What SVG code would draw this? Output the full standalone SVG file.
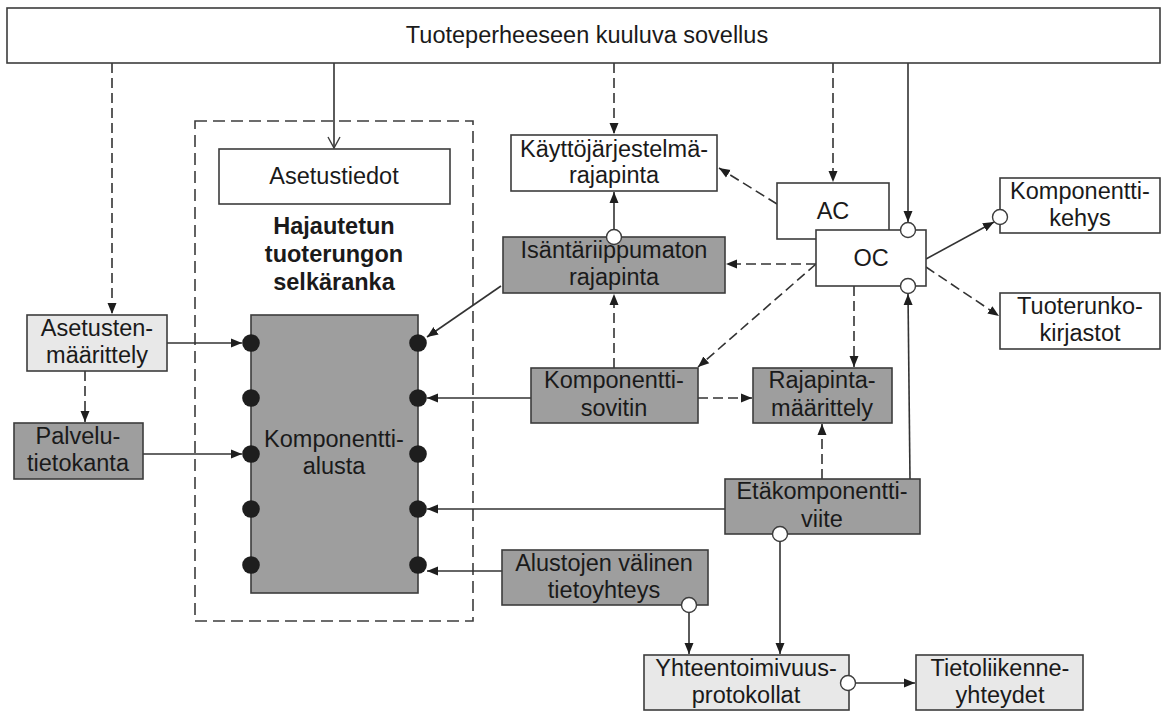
<svg xmlns="http://www.w3.org/2000/svg" width="1168" height="711" viewBox="0 0 1168 711">
  <defs>
    <style>
      .box { stroke: #3c3c3c; stroke-width: 1.6; }
      .white { fill: #ffffff; }
      .dark { fill: #9e9e9e; }
      .light { fill: #e8e8e8; }
      .lbl { font-family: "Liberation Sans", Arial, sans-serif; font-size: 23.5px; fill: #1a1a1a; text-anchor: middle; }
      .bold { font-weight: bold; }
      .ln { stroke: #333333; stroke-width: 1.6; fill: none; }
      .dash { stroke-dasharray: 10 5; }
      .port { fill: #ffffff; stroke: #3c3c3c; stroke-width: 1.4; }
      .pin { fill: #1e1e1e; }
    </style>
    <marker id="arr" markerUnits="userSpaceOnUse" markerWidth="12" markerHeight="10" refX="11" refY="5" orient="auto">
      <path d="M0,0.5 L11,5 L0,9.5 z" fill="#1e1e1e"/>
    </marker>
    <marker id="open" markerUnits="userSpaceOnUse" markerWidth="14" markerHeight="14" refX="12" refY="7" orient="auto">
      <path d="M1,1 L12,7 L1,13" fill="none" stroke="#3c3c3c" stroke-width="1.4"/>
    </marker>
  </defs>

  <!-- backbone container -->
  <rect x="195" y="121" width="278" height="500" fill="none" stroke="#3c3c3c" stroke-width="1.6" stroke-dasharray="12 6"/>

  <!-- connectors -->
  <g id="connectors">
    <line class="ln" x1="334" y1="63" x2="334" y2="148" marker-end="url(#open)"/>
    <line class="ln dash" x1="112" y1="63" x2="112" y2="314" marker-end="url(#arr)"/>
    <line class="ln dash" x1="85" y1="371" x2="85" y2="422" marker-end="url(#arr)"/>
    <line class="ln" x1="167" y1="343" x2="242" y2="343" marker-end="url(#arr)"/>
    <line class="ln" x1="143" y1="454" x2="242" y2="454" marker-end="url(#arr)"/>
    <line class="ln dash" x1="614" y1="63" x2="614" y2="134" marker-end="url(#arr)"/>
    <line class="ln dash" x1="833" y1="63" x2="833" y2="182" marker-end="url(#arr)"/>
    <line class="ln" x1="908" y1="63" x2="908" y2="222" marker-end="url(#arr)"/>
    <line class="ln" x1="614" y1="229" x2="614" y2="192" marker-end="url(#arr)"/>
    <line class="ln dash" x1="777" y1="204" x2="719" y2="168" marker-end="url(#arr)"/>
    <line class="ln dash" x1="816" y1="264" x2="726" y2="264" marker-end="url(#arr)"/>
    <line class="ln dash" x1="816" y1="264" x2="698" y2="367" marker-end="url(#arr)"/>
    <line class="ln" x1="926" y1="259" x2="994" y2="222" marker-end="url(#arr)"/>
    <line class="ln dash" x1="926" y1="267" x2="999" y2="316" marker-end="url(#arr)"/>
    <line class="ln" x1="501" y1="286" x2="427" y2="337" marker-end="url(#arr)"/>
    <line class="ln dash" x1="614" y1="368" x2="614" y2="294" marker-end="url(#arr)"/>
    <line class="ln" x1="531" y1="398" x2="427" y2="398" marker-end="url(#arr)"/>
    <line class="ln dash" x1="698" y1="398" x2="752" y2="398" marker-end="url(#arr)"/>
    <line class="ln dash" x1="854" y1="286" x2="854" y2="367" marker-end="url(#arr)"/>
    <line class="ln dash" x1="822" y1="479" x2="822" y2="424" marker-end="url(#arr)"/>
    <line class="ln" x1="910" y1="479" x2="908" y2="294" marker-end="url(#arr)"/>
    <line class="ln" x1="725" y1="509" x2="427" y2="509" marker-end="url(#arr)"/>
    <line class="ln" x1="502" y1="571" x2="427" y2="571" marker-end="url(#arr)"/>
    <line class="ln" x1="780" y1="541" x2="780" y2="654" marker-end="url(#arr)"/>
    <line class="ln" x1="689" y1="612" x2="689" y2="654" marker-end="url(#arr)"/>
    <line class="ln" x1="855" y1="683" x2="915" y2="683" marker-end="url(#arr)"/>
  </g>

  <g id="sovellus">
    <rect class="box white" x="7" y="8" width="1153" height="55"/>
    <text class="lbl" x="587" y="43">Tuoteperheeseen kuuluva sovellus</text>
  </g>

  <g id="asetustiedot">
    <rect class="box white" x="219" y="149" width="231" height="55"/>
    <text class="lbl" x="334" y="184">Asetustiedot</text>
  </g>

  <g id="selkaranka">
    <text class="lbl bold" x="334" y="234">Hajautetun</text>
    <text class="lbl bold" x="334" y="262">tuoterungon</text>
    <text class="lbl bold" x="334" y="290">selkäranka</text>
  </g>

  <g id="komponenttialusta">
    <rect class="box dark" x="251" y="315" width="167" height="278"/>
    <text class="lbl" x="334" y="447">Komponentti-</text>
    <text class="lbl" x="334" y="474">alusta</text>
    <circle class="pin" cx="251" cy="343" r="8.8"/>
    <circle class="pin" cx="251" cy="398" r="8.8"/>
    <circle class="pin" cx="251" cy="454" r="8.8"/>
    <circle class="pin" cx="251" cy="509" r="8.8"/>
    <circle class="pin" cx="251" cy="565" r="8.8"/>
    <circle class="pin" cx="418" cy="343" r="8.8"/>
    <circle class="pin" cx="418" cy="398" r="8.8"/>
    <circle class="pin" cx="418" cy="454" r="8.8"/>
    <circle class="pin" cx="418" cy="509" r="8.8"/>
    <circle class="pin" cx="418" cy="565" r="8.8"/>
  </g>

  <g id="asetustenmaarittely">
    <rect class="box light" x="27" y="315" width="140" height="56"/>
    <text class="lbl" x="97" y="336">Asetusten-</text>
    <text class="lbl" x="97" y="363">määrittely</text>
  </g>

  <g id="palvelutietokanta">
    <rect class="box dark" x="14" y="423" width="129" height="56"/>
    <text class="lbl" x="78" y="444">Palvelu-</text>
    <text class="lbl" x="78" y="471">tietokanta</text>
  </g>

  <g id="kayttojarjestelma">
    <rect class="box white" x="511" y="135" width="206" height="56"/>
    <text class="lbl" x="614" y="157">Käyttöjärjestelmä-</text>
    <text class="lbl" x="614" y="183">rajapinta</text>
  </g>

  <g id="isantariippumaton">
    <rect class="box dark" x="503" y="237" width="222" height="56"/>
    <text class="lbl" x="614" y="258">Isäntäriippumaton</text>
    <text class="lbl" x="614" y="285">rajapinta</text>
    <circle class="port" cx="614" cy="237" r="7.5"/>
  </g>

  <g id="ac">
    <rect class="box white" x="777" y="183" width="112" height="56"/>
    <text class="lbl" x="833" y="219">AC</text>
  </g>

  <g id="oc">
    <rect class="box white" x="816" y="230" width="110" height="56"/>
    <text class="lbl" x="871" y="266">OC</text>
    <circle class="port" cx="908" cy="230" r="7.5"/>
    <circle class="port" cx="908" cy="286" r="7.5"/>
  </g>

  <g id="komponenttikehys">
    <rect class="box white" x="1000" y="178" width="160" height="55"/>
    <text class="lbl" x="1080" y="199">Komponentti-</text>
    <text class="lbl" x="1080" y="226">kehys</text>
    <circle class="port" cx="1000" cy="217" r="7.5"/>
  </g>

  <g id="tuoterunkokirjastot">
    <rect class="box white" x="1000" y="293" width="160" height="56"/>
    <text class="lbl" x="1080" y="314">Tuoterunko-</text>
    <text class="lbl" x="1080" y="341">kirjastot</text>
  </g>

  <g id="komponenttisovitin">
    <rect class="box dark" x="531" y="368" width="167" height="55"/>
    <text class="lbl" x="614" y="388">Komponentti-</text>
    <text class="lbl" x="614" y="416">sovitin</text>
  </g>

  <g id="rajapintamaarittely">
    <rect class="box dark" x="753" y="368" width="139" height="55"/>
    <text class="lbl" x="822" y="388">Rajapinta-</text>
    <text class="lbl" x="822" y="416">määrittely</text>
  </g>

  <g id="etakomponenttiviite">
    <rect class="box dark" x="725" y="479" width="195" height="55"/>
    <text class="lbl" x="822" y="499">Etäkomponentti-</text>
    <text class="lbl" x="822" y="527">viite</text>
    <circle class="port" cx="780" cy="534" r="7.5"/>
  </g>

  <g id="alustojenvalinen">
    <rect class="box dark" x="502" y="550" width="206" height="55"/>
    <text class="lbl" x="604" y="571">Alustojen välinen</text>
    <text class="lbl" x="604" y="598">tietoyhteys</text>
    <circle class="port" cx="689" cy="605" r="7.5"/>
  </g>

  <g id="yhteentoimivuus">
    <rect class="box light" x="644" y="655" width="205" height="55"/>
    <text class="lbl" x="746" y="676">Yhteentoimivuus-</text>
    <text class="lbl" x="746" y="703">protokollat</text>
    <circle class="port" cx="848" cy="683" r="7.5"/>
  </g>

  <g id="tietoliikenne">
    <rect class="box light" x="916" y="655" width="167" height="55"/>
    <text class="lbl" x="1000" y="676">Tietoliikenne-</text>
    <text class="lbl" x="1000" y="703">yhteydet</text>
  </g>
</svg>
